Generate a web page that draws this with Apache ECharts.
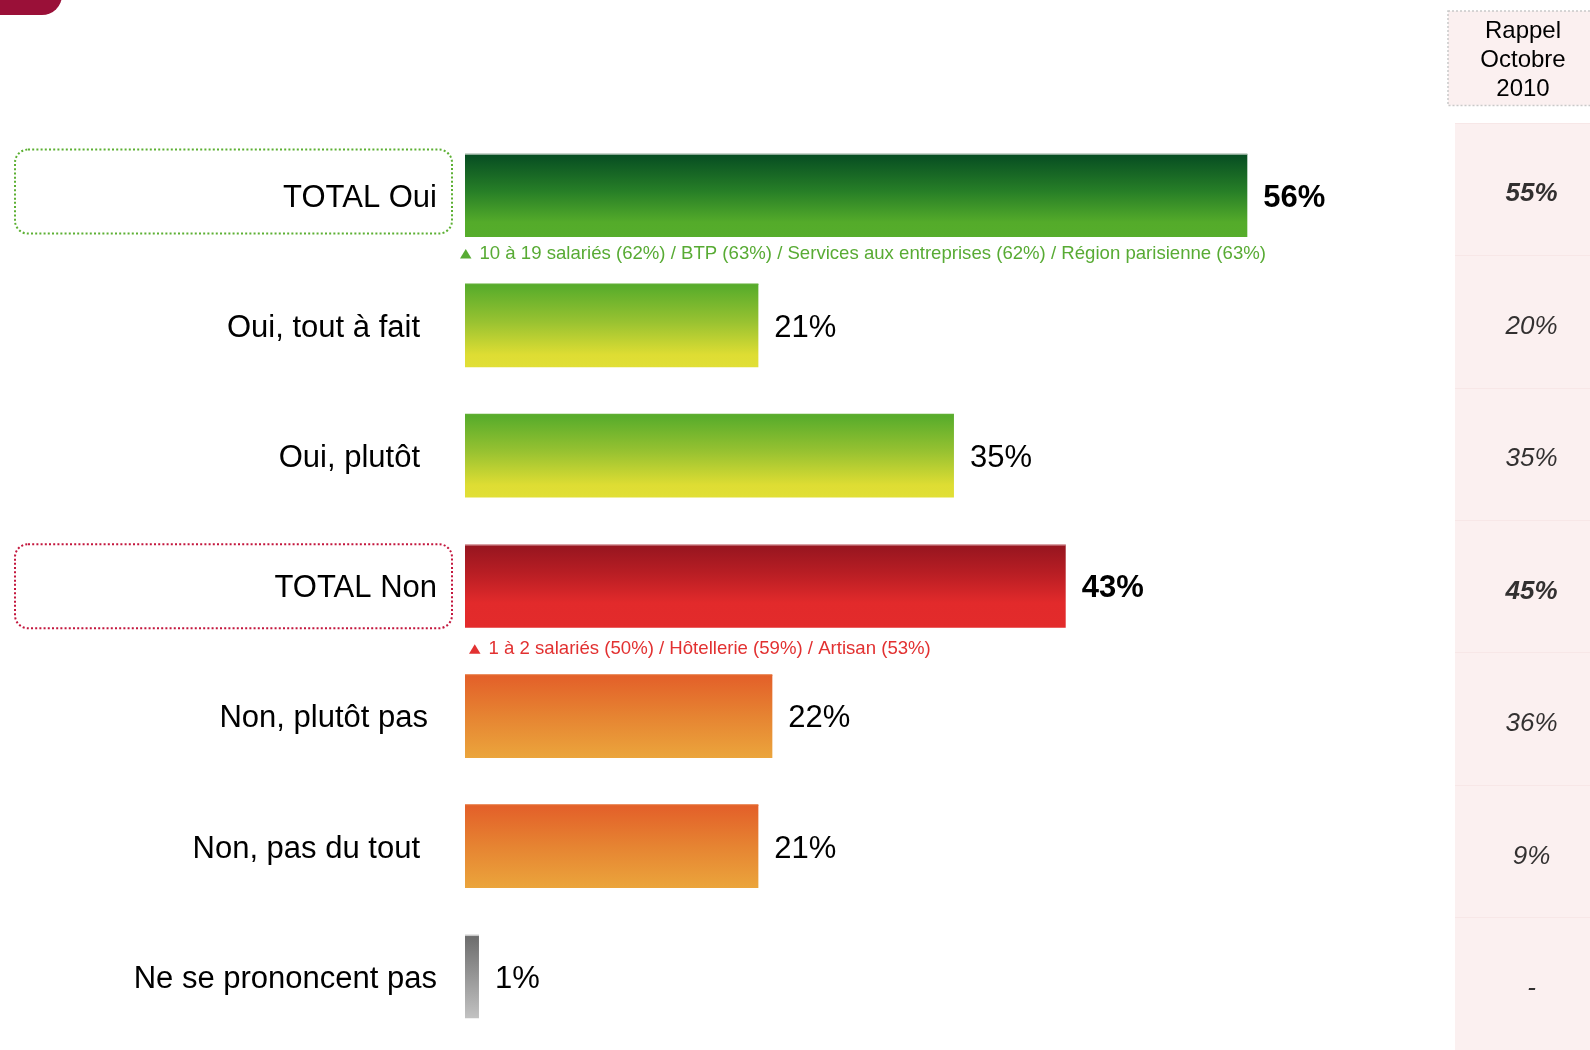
<!DOCTYPE html>
<html>
<head>
<meta charset="utf-8">
<script src="https://cdn.jsdelivr.net/npm/echarts@6/dist/echarts.min.js"></script>
<style>
  html, body { margin: 0; padding: 0; background: #ffffff; }
  #chart { width: 1590px; height: 1050px; }
</style>
</head>
<body>
<div id="chart"></div>
<script>
// Survey answers, current wave
const categories = ['TOTAL Oui', 'Oui, tout à fait', 'Oui, plutôt', 'TOTAL Non', 'Non, plutôt pas', 'Non, pas du tout', 'Ne se prononcent pas'];
const values = [56, 21, 35, 43, 22, 21, 1];

// Previous wave (October 2010) shown in the right-hand column
const rappelTitle = 'Rappel\nOctobre\n2010';
const rappelValues = ['55%', '20%', '35%', '45%', '36%', '9%', '-'];

// Over-represented sub-groups printed under the total bars
const noteRows = ['TOTAL Oui', 'TOTAL Non'];
const noteTexts = [
  '10 à 19 salariés (62%) / BTP (63%) / Services aux entreprises (62%) / Région parisienne (63%)',
  '1 à 2 salariés (50%) / Hôtellerie (59%) / Artisan (53%)'
];

const FONT = '"Liberation Sans", Arial, Helvetica, sans-serif';
const totals = ['TOTAL Oui', 'TOTAL Non'];

function vGrad(stops) {
  return new echarts.graphic.LinearGradient(0, 0, 0, 1,
    stops.map(s => ({ offset: s[0], color: s[1] })));
}
const palette = {
  totalOui: vGrad([[0, '#064c22'], [0.45, '#277f27'], [0.82, '#54ab2a'], [1, '#56ad2b']]),
  oui: vGrad([[0, '#55ab2b'], [0.45, '#98c231'], [0.85, '#dedd33'], [1, '#e1df36']]),
  totalNon: vGrad([[0, '#95151f'], [0.35, '#b91e24'], [0.7, '#e22a2b'], [1, '#e32b2b']]),
  non: vGrad([[0, '#e35f29'], [0.5, '#e68432'], [1, '#eba53c']]),
  nsp: vGrad([[0, '#6c6c6c'], [1, '#c2c2c2']])
};
const barColorKey = ['totalOui', 'oui', 'oui', 'totalNon', 'non', 'non', 'nsp'];
const topEdge = { totalOui: '#b9c9bd', oui: '#5fae33', totalNon: '#d9a0a4', non: '#e56a2f', nsp: '#c8c8c8' };
// extra right indent of each category label
const labelIndent = [0, 17, 17, 0, 9, 17, 0];

const rich = {};
labelIndent.forEach((p, i) => {
  rich['p' + i] = { fontSize: 31, color: '#000', fontFamily: FONT, padding: [5, p, 0, 0] };
});

const chart = echarts.init(document.getElementById('chart'), null, { renderer: 'canvas' });

const option = {
  backgroundColor: '#ffffff',
  animation: false,
  textStyle: { fontFamily: FONT },
  grid: [
    { left: 465, top: 130.5, width: 1117.6, height: 911.4, containLabel: false },
    { left: 1455, top: 123, right: -17, height: 929.6, show: true, backgroundColor: '#fbf0f0', borderWidth: 0 }
  ],
  xAxis: [
    { gridIndex: 0, type: 'value', min: 0, max: 80, show: false },
    { gridIndex: 1, type: 'category', data: ['rappel'], show: false }
  ],
  yAxis: [
    {
      gridIndex: 0, type: 'category', inverse: true, data: categories,
      axisLine: { show: false }, axisTick: { show: false }, splitLine: { show: false },
      axisLabel: {
        margin: 28,
        formatter: (v, i) => '{p' + i + '|' + v + '}',
        rich: rich
      }
    },
    {
      gridIndex: 1, type: 'category', inverse: true, data: categories,
      axisLine: { show: false }, axisTick: { show: false }, axisLabel: { show: false },
      splitLine: { show: true, lineStyle: { color: '#f7e7e7', width: 1 } }
    }
  ],
  series: [
    {
      type: 'bar',
      xAxisIndex: 0, yAxisIndex: 0,
      barWidth: 83,
      data: values.map((v, i) => {
        const key = barColorKey[i];
        const isTotal = totals.includes(categories[i]);
        return {
          value: v,
          itemStyle: { color: palette[key] },
          label: {
            show: true, position: 'right', distance: 16, offset: [0, 2.5],
            formatter: '{c}%', fontSize: 31, color: '#000',
            fontWeight: isTotal ? 'bold' : 'normal', fontFamily: FONT
          }
        };
      })
    },
    {
      type: 'scatter',
      xAxisIndex: 1, yAxisIndex: 1,
      symbolSize: 0,
      silent: true,
      data: rappelValues.map((v, i) => ({
        value: [0, i],
        label: { fontWeight: totals.includes(categories[i]) ? 'bold' : 'normal' }
      })),
      label: {
        show: true, position: 'inside',
        formatter: p => rappelValues[p.dataIndex],
        fontSize: 26, color: '#000', fontStyle: 'italic', fontFamily: FONT,
        offset: [9, 5]
      },
      itemStyle: { color: 'transparent' }
    }
  ]
};

chart.setOption(option);

// Decorations placed from the category scale
function rowCenter(name) {
  return chart.convertToPixel({ yAxisIndex: 0 }, name);
}
const barLeft = chart.convertToPixel({ xAxisIndex: 0 }, 0);
const graphics = [];

// corner tab
graphics.push({
  type: 'rect', shape: { x: -30, y: -30, width: 92, height: 45, r: 20 },
  style: { fill: '#9a1038' }, z: 10
});

// thin highlight along the top edge of each bar
values.forEach((v, i) => {
  const cy = rowCenter(categories[i]);
  const x1 = chart.convertToPixel({ xAxisIndex: 0 }, v);
  graphics.push({
    type: 'line', shape: { x1: barLeft, y1: cy - 41.5, x2: x1, y2: cy - 41.5 },
    style: { stroke: topEdge[barColorKey[i]], lineWidth: 1.5 }, z: 20
  });
});

// dotted frames around the total labels
const frameColor = { 'TOTAL Oui': '#5cb033', 'TOTAL Non': '#c3163d' };
const frameShift = { 'TOTAL Oui': -4, 'TOTAL Non': 0 };
totals.forEach(name => {
  const cy = rowCenter(name) + frameShift[name];
  graphics.push({
    type: 'rect',
    shape: { x: 15, y: cy - 42, width: 437, height: 84, r: 13 },
    style: { fill: 'none', stroke: frameColor[name], lineWidth: 2, lineDash: [2, 2.2] },
    z: 5
  });
});

// sub-group notes below the total bars
const noteStyle = [
  { color: '#58ab34', dx: -5, dy: 17 },
  { color: '#e23131', dx: 4, dy: 21.5 }
];
noteRows.forEach((name, k) => {
  const cy = rowCenter(name) + 41.5 + noteStyle[k].dy;
  const x0 = barLeft + noteStyle[k].dx;
  graphics.push({
    type: 'polygon',
    shape: { points: [[x0, cy + 4.5], [x0 + 11.5, cy + 4.5], [x0 + 5.75, cy - 5]] },
    style: { fill: noteStyle[k].color }, z: 10
  });
  graphics.push({
    type: 'text', x: x0 + 19.5, y: cy,
    style: {
      text: noteTexts[k], fill: noteStyle[k].color, font: '18.6px ' + FONT,
      textAlign: 'left', textVerticalAlign: 'middle', verticalAlign: 'middle'
    }, z: 10
  });
});

// header of the previous-wave column
graphics.push({
  type: 'rect', shape: { x: 1448, y: 11, width: 160, height: 94.5 },
  style: { fill: '#fbf0f0', stroke: '#c9c9c9', lineWidth: 1.5, lineDash: [2, 2] }, z: 5
});
graphics.push({
  type: 'text', x: 1523, y: 60,
  style: {
    text: rappelTitle, fill: '#000', font: '24px ' + FONT, lineHeight: 29,
    textAlign: 'center', textVerticalAlign: 'middle', align: 'center', verticalAlign: 'middle'
  }, z: 6
});

chart.setOption({ graphic: graphics });
</script>
</body>
</html>
